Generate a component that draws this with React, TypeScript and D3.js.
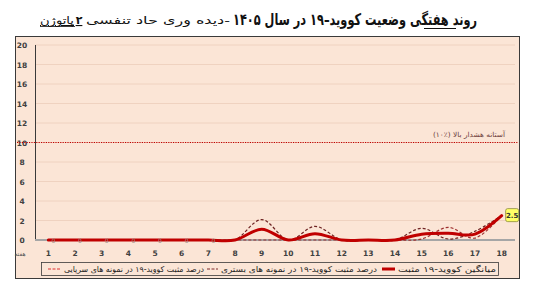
import React from "react";
import * as d3 from "d3";

const weeks = [1, 2, 3, 4, 5, 6, 7, 8, 9, 10, 11, 12, 13, 14, 15, 16, 17, 18];
const avgPositive = [0, 0, 0, 0, 0, 0, 0, 0, 1.1, 0, 0.65, 0, 0, 0, 0.6, 0.7, 0.6, 2.5];
const inpatientPositive = [0, 0, 0, 0, 0, 0, 0, 0, 2.1, 0, 1.4, 0, 0, 0, 1.2, 0.1, 0.9, 2.5];
const outpatientPositive = [0, 0, 0, 0, 0, 0, 0, 0, 0, 0, 0, 0, 0, 0, 0.1, 1.3, 0.2, 2.5];
const yTicks = [0, 2, 4, 6, 8, 10, 12, 14, 16, 18, 20];
const threshold = 10;
const zeroLabelWeeks = [1, 2, 3, 4, 5, 6, 7];

const FONT = "DejaVu Sans";

export default function App() {
  const W = 539;
  const H = 287;
  const x = d3.scalePoint<number>().domain(weeks).range([35, 515]).padding(0.5);
  const y = d3.scaleLinear().domain([0, 20]).range([240, 45]);

  const mk = (vals: number[]) =>
    d3
      .line<number>()
      .x((_, i) => x(weeks[i]) as number)
      .y((v) => y(v))
      .curve(d3.curveCardinal.tension(0))(vals) as string;

  const lastW = weeks[weeks.length - 1];
  const lastV = avgPositive[avgPositive.length - 1];

  return (
    <svg width={W} height={H} style={{ display: "block", position: "absolute", left: 0, top: 0 }}>
      <rect x={0} y={0} width={W} height={H} fill="#ffffff" />
      {/* title */}
      <text x={355} y={25} textAnchor="middle" direction="rtl" fontFamily={FONT} fontWeight="bold" fontSize={16} fill="#111"
        textLength={244} lengthAdjust="spacingAndGlyphs">
        روند هفتگی وضعیت کووید–۱۹ در سال ۱۴۰۵
      </text>
      <line x1={424} x2={456} y1={28.5} y2={28.5} stroke="#111" strokeWidth={1} />
      <text x={158} y={24} textAnchor="middle" direction="rtl" fontFamily={FONT} fontSize={11} fill="#111"
        textLength={144} lengthAdjust="spacingAndGlyphs">
        -دیده وری حاد تنفسی
      </text>
      <text x={79} y={24} textAnchor="middle" fontFamily={FONT} fontWeight="bold" fontSize={11} fill="#111" textDecoration="underline">
        ۲
      </text>
      <text x={57} y={24} textAnchor="middle" direction="rtl" fontFamily={FONT} fontSize={11} fill="#111" textDecoration="underline"
        textLength={34} lengthAdjust="spacingAndGlyphs">
        پاتوژن
      </text>
      <line x1={40} x2={75} y1={26.5} y2={26.5} stroke="#111" strokeWidth={0.8} />

      {/* frame */}
      <rect x={15.5} y={36.5} width={504} height={242} fill="#fbe5d6" stroke="#3a3a3a" strokeWidth={1} />

      {/* gridlines */}
      {yTicks.filter((t) => t > 0).map((t) => (
        <line key={t} x1={35} x2={515} y1={y(t)} y2={y(t)} stroke="#efd2c0" strokeWidth={1} />
      ))}

      {/* y axis */}
      <line x1={35.5} x2={35.5} y1={y(20)} y2={y(0)} stroke="#3a3a3a" strokeWidth={1} />
      {yTicks.map((t) => (
        <text key={t} x={22} y={y(t) + 3} textAnchor="middle" fontFamily={FONT} fontWeight="bold" fontSize={7.5} fill="#404040">
          {t}
        </text>
      ))}

      {/* threshold */}
      <line x1={17} x2={518} y1={y(threshold)} y2={y(threshold)} stroke="#c00000" strokeWidth={1} strokeDasharray="1.2,1.2" />
      <text x={469} y={y(threshold) - 6} textAnchor="middle" direction="rtl" fontFamily={FONT} fontSize={7} fill="#6b3a3a"
        textLength={72} lengthAdjust="spacingAndGlyphs">
        آستانه هشدار بالا (٪۱۰)
      </text>

      {/* zero axis */}
      <line x1={35} x2={515} y1={y(0)} y2={y(0)} stroke="#a6a6a6" strokeWidth={2} />

      {/* series */}
      <path d={mk(inpatientPositive)} fill="none" stroke="#6e2222" strokeWidth={1.2} strokeDasharray="3,2" />
      <path d={mk(outpatientPositive)} fill="none" stroke="#9e2f2f" strokeWidth={1.2} strokeDasharray="3,2" />
      <path d={mk(avgPositive)} fill="none" stroke="#c00000" strokeWidth={3} strokeLinecap="round" />

      {zeroLabelWeeks.map((w) => (
        <text key={w} x={(x(w) as number) + 5} y={y(0) + 2.5} textAnchor="middle" fontFamily={FONT} fontSize={6} fill="#9a8f8a">
          0
        </text>
      ))}

      {/* last value label */}
      <rect x={(x(lastW) as number) + 4} y={y(lastV) - 7} width={13} height={13} rx={2} fill="#ffff66" stroke="#8a8a3a" strokeWidth={0.8} />
      <text x={(x(lastW) as number) + 10.5} y={y(lastV) + 2.5} textAnchor="middle" fontFamily={FONT} fontWeight="bold" fontSize={7} fill="#333">
        {lastV}
      </text>

      {/* x labels */}
      {weeks.map((w) => (
        <text key={w} x={x(w) as number} y={256} textAnchor="middle" fontFamily={FONT} fontWeight="bold" fontSize={7.5} fill="#404040">
          {w}
        </text>
      ))}
      <text x={20} y={256} textAnchor="middle" fontFamily={FONT} fontSize={6} fill="#555">
        هفته
      </text>

      {/* legend */}
      <rect x={41.5} y={262.5} width={457} height={13} fill="#fbe5d6" stroke="#3a3a3a" strokeWidth={0.8} />
      <text x={447} y={272} textAnchor="middle" direction="rtl" fontFamily={FONT} fontSize={8} fill="#222"
        textLength={98} lengthAdjust="spacingAndGlyphs">
        میانگین کووید-۱۹ مثبت
      </text>
      <line x1={382} x2={395} y1={269} y2={269} stroke="#c00000" strokeWidth={3} />
      <text x={299} y={272} textAnchor="middle" direction="rtl" fontFamily={FONT} fontSize={8} fill="#222"
        textLength={156} lengthAdjust="spacingAndGlyphs">
        درصد  مثبت کووید-۱۹ در نمونه های بستری
      </text>
      <line x1={207} x2={218} y1={269} y2={269} stroke="#7f2a2a" strokeWidth={1} strokeDasharray="3,1.5" />
      <text x={134} y={272} textAnchor="middle" direction="rtl" fontFamily={FONT} fontSize={8} fill="#222"
        textLength={140} lengthAdjust="spacingAndGlyphs">
        درصد  مثبت کووید-۱۹ در نمونه های سرپایی
      </text>
      <line x1={48} x2={60} y1={269} y2={269} stroke="#e03030" strokeWidth={1} strokeDasharray="3,1.5" />
    </svg>
  );
}
